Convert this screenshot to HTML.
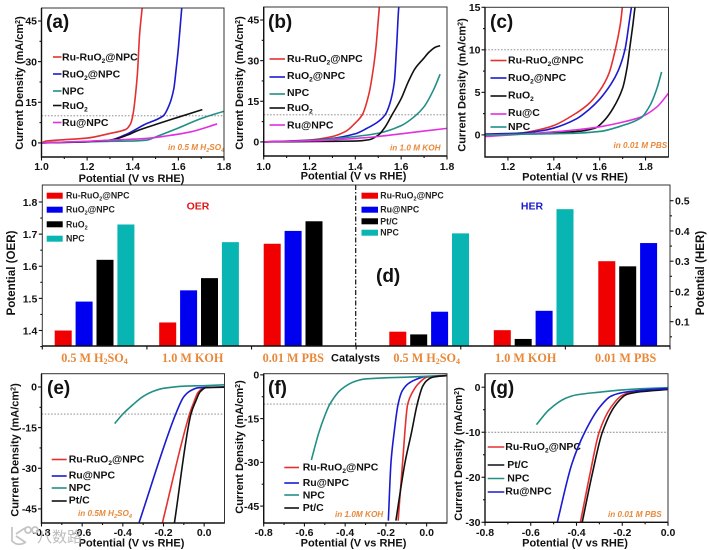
<!DOCTYPE html>
<html lang="en">
<head>
<meta charset="utf-8">
<title>Electrocatalyst OER and HER performance panels</title>
<style>
html,body{margin:0;padding:0;background:#fff;}
body{width:709px;height:550px;overflow:hidden;}
#figure{display:block;width:709px;height:550px;filter:blur(0.3px);}
text{font-family:"Liberation Sans","DejaVu Sans",sans-serif;font-weight:bold;fill:#111;}
.lg{font-size:10.5px;}
.lgs{font-size:8.8px;fill:#222;}
.ttl{font-size:11px;text-anchor:middle;}
.tick{font-size:10.5px;}
.tag{font-size:19px;fill:#111;}
.note{font-size:8.2px;font-style:italic;fill:#e8893a;}
.cat{font-family:"Liberation Serif",serif;font-size:12.2px;fill:#e8893a;text-anchor:middle;}
.ll{stroke-width:1.6;fill:none;}
.frame{fill:none;stroke:#333;stroke-width:1;}
.ref{stroke:#808080;stroke-width:.9;stroke-dasharray:1.6 1.6;fill:none;}
</style>
</head>
<body>
<svg id="figure" xmlns="http://www.w3.org/2000/svg" width="709" height="550" viewBox="0 0 709 550">
<rect x="0" y="0" width="709" height="550" fill="#fff"/>

<!-- Panel a -->
<g id="panel-a">
<text class="tag" x="46" y="28">(a)</text>
<text class="ttl" transform="translate(23,83) rotate(-90)">Current Density (mA/cm<tspan dy="-3" font-size="7">2</tspan><tspan dy="3">)</tspan></text>
<text class="ttl" x="131.5" y="182">Potential (V vs RHE)</text>
<g>
<line class="ll" x1="53" x2="61.5" y1="57" y2="57" stroke="#e4302f"/>
<text class="lg" x="62" y="60.5">Ru-RuO<tspan dy="2.5" font-size="6.5">2</tspan><tspan dy="-2.5">@NPC</tspan></text>
<line class="ll" x1="53" x2="61.5" y1="74" y2="74" stroke="#1a1ad0"/>
<text class="lg" x="62" y="77.7">RuO<tspan dy="2.5" font-size="6.5">2</tspan><tspan dy="-2.5">@NPC</tspan></text>
<line class="ll" x1="53" x2="61.5" y1="91" y2="91" stroke="#218f85"/>
<text class="lg" x="62" y="94.5">NPC</text>
<line class="ll" x1="53" x2="61.5" y1="105.5" y2="105.5" stroke="#111"/>
<text class="lg" x="62" y="109">RuO<tspan dy="2.5" font-size="6.5">2</tspan></text>
<line class="ll" x1="53" x2="61.5" y1="122.5" y2="122.5" stroke="#e030e0"/>
<text class="lg" x="62" y="126">Ru@NPC</text>
</g>
<text class="note" x="168" y="150">in 0.5 M H<tspan dy="2" font-size="5.5">2</tspan><tspan dy="-2">SO</tspan><tspan dy="2" font-size="5.5">4</tspan></text>
</g>

<!-- Panel b -->
<g id="panel-b">
<text class="tag" x="268" y="28">(b)</text>
<text class="ttl" transform="translate(243,83) rotate(-90)">Current Density (mA/cm<tspan dy="-3" font-size="7">2</tspan><tspan dy="3">)</tspan></text>
<text class="ttl" x="353.5" y="179.5">Potential (V vs RHE)</text>
<g>
<line class="ll" x1="269.5" x2="285" y1="59" y2="59" stroke="#e4302f"/>
<text class="lg" x="287" y="62">Ru-RuO<tspan dy="2.5" font-size="6.5">2</tspan><tspan dy="-2.5">@NPC</tspan></text>
<line class="ll" x1="269.5" x2="285" y1="77" y2="77" stroke="#1a1ad0"/>
<text class="lg" x="287" y="79">RuO<tspan dy="2.5" font-size="6.5">2</tspan><tspan dy="-2.5">@NPC</tspan></text>
<line class="ll" x1="269.5" x2="285" y1="94" y2="94" stroke="#218f85"/>
<text class="lg" x="287" y="96">NPC</text>
<line class="ll" x1="269.5" x2="285" y1="108" y2="108" stroke="#111"/>
<text class="lg" x="287" y="111">RuO<tspan dy="2.5" font-size="6.5">2</tspan></text>
<line class="ll" x1="269.5" x2="285" y1="125" y2="125" stroke="#e030e0"/>
<text class="lg" x="287" y="128.4">Ru@NPC</text>
</g>
<text class="note" x="390" y="150.5">in 1.0 M KOH</text>
</g>

<!-- Panel c -->
<g id="panel-c">
<text class="tag" x="490" y="28">(c)</text>
<text class="ttl" transform="translate(465.5,85) rotate(-90)">Current Density (mA/cm<tspan dy="-3" font-size="7">2</tspan><tspan dy="3">)</tspan></text>
<text class="ttl" x="575" y="180.5">Potential (V vs RHE)</text>
<g>
<line class="ll" x1="490.5" x2="506.5" y1="60.5" y2="60.5" stroke="#e4302f"/>
<text class="lg" x="508" y="63.7">Ru-RuO<tspan dy="2.5" font-size="6.5">2</tspan><tspan dy="-2.5">@NPC</tspan></text>
<line class="ll" x1="490.5" x2="506.5" y1="78" y2="78" stroke="#1a1ad0"/>
<text class="lg" x="508" y="81">RuO<tspan dy="2.5" font-size="6.5">2</tspan><tspan dy="-2.5">@NPC</tspan></text>
<line class="ll" x1="490.5" x2="506.5" y1="96" y2="96" stroke="#111"/>
<text class="lg" x="508" y="98.7">RuO<tspan dy="2.5" font-size="6.5">2</tspan></text>
<line class="ll" x1="490.5" x2="506.5" y1="114" y2="114" stroke="#e030e0"/>
<text class="lg" x="508" y="116">Ru@C</text>
<line class="ll" x1="490.5" x2="506.5" y1="127" y2="127" stroke="#218f85"/>
<text class="lg" x="508" y="130">NPC</text>
</g>
<text class="note" x="613.5" y="148">in 0.01 M PBS</text>
</g>

<!-- Panel d -->
<g id="panel-d">
<text class="tag" x="376" y="282">(d)</text>
<text x="198" y="209.5" font-size="10.5" text-anchor="middle" style="fill:#e01818">OER</text>
<text x="532" y="209.5" font-size="10.5" text-anchor="middle" style="fill:#1a1ad0">HER</text>
<text transform="translate(15,273) rotate(-90)" font-size="11.6" text-anchor="middle">Potential (OER)</text>
<text transform="translate(704,273) rotate(-90)" font-size="11.6" text-anchor="middle">Potential (HER)</text>
<text x="355.5" y="361.7" font-size="11" text-anchor="middle">Catalysts</text>
<text class="cat" x="94.5" y="362">0.5 M H<tspan dy="2" font-size="8">2</tspan><tspan dy="-2">SO</tspan><tspan dy="2" font-size="8">4</tspan></text>
<text class="cat" x="192.7" y="362">1.0 M KOH</text>
<text class="cat" x="293.3" y="362">0.01 M PBS</text>
<text class="cat" x="426.7" y="362">0.5 M H<tspan dy="2" font-size="8">2</tspan><tspan dy="-2">SO</tspan><tspan dy="2" font-size="8">4</tspan></text>
<text class="cat" x="525.7" y="362">1.0 M KOH</text>
<text class="cat" x="625.7" y="362">0.01 M PBS</text>
<g>
<rect x="46.7" y="192.7" width="16" height="6" fill="#f00000"/>
<text class="lgs" x="66" y="198.7">Ru-RuO<tspan dy="2" font-size="5.5">2</tspan><tspan dy="-2">@NPC</tspan></text>
<rect x="46.7" y="206.7" width="16" height="6" fill="#0000f0"/>
<text class="lgs" x="66" y="212.7">RuO<tspan dy="2" font-size="5.5">2</tspan><tspan dy="-2">@NPC</tspan></text>
<rect x="46.7" y="221.3" width="16" height="6" fill="#000"/>
<text class="lgs" x="66" y="227.3">RuO<tspan dy="2" font-size="5.5">2</tspan></text>
<rect x="46.7" y="235.7" width="16" height="6" fill="#08b5b2"/>
<text class="lgs" x="66" y="241.7">NPC</text>
</g>
<g>
<rect x="361.5" y="192.7" width="16.5" height="6" fill="#f00000"/>
<text class="lgs" x="380.3" y="198.7">Ru-RuO<tspan dy="2" font-size="5.5">2</tspan><tspan dy="-2">@NPC</tspan></text>
<rect x="361.5" y="206.7" width="16.5" height="6" fill="#0000f0"/>
<text class="lgs" x="380.3" y="212.7">Ru@NPC</text>
<rect x="361.5" y="218.3" width="16.5" height="6" fill="#000"/>
<text class="lgs" x="380.3" y="224.3">Pt/C</text>
<rect x="361.5" y="229.7" width="16.5" height="6" fill="#08b5b2"/>
<text class="lgs" x="380.3" y="235.7">NPC</text>
</g>
</g>

<!-- Panel e -->
<g id="panel-e">
<text class="tag" x="47" y="394">(e)</text>
<text class="ttl" transform="translate(18.5,450) rotate(-90)">Current Density (mA/cm<tspan dy="-3" font-size="7">2</tspan><tspan dy="3">)</tspan></text>
<text class="ttl" x="131.5" y="546.5">Potential (V vs RHE)</text>
<g>
<line class="ll" x1="51.7" x2="66.7" y1="459.5" y2="459.5" stroke="#e4302f"/>
<text class="lg" x="68.7" y="462.7">Ru-RuO<tspan dy="2.5" font-size="6.5">2</tspan><tspan dy="-2.5">@NPC</tspan></text>
<line class="ll" x1="51.7" x2="66.7" y1="476" y2="476" stroke="#1a1ad0"/>
<text class="lg" x="68.7" y="478.5">Ru@NPC</text>
<line class="ll" x1="51.7" x2="66.7" y1="488" y2="488" stroke="#218f85"/>
<text class="lg" x="68.7" y="491">NPC</text>
<line class="ll" x1="51.7" x2="66.7" y1="501" y2="501" stroke="#111"/>
<text class="lg" x="68.7" y="503.7">Pt/C</text>
</g>
<text class="note" x="78" y="516">in 0.5M H<tspan dy="2" font-size="5.5">2</tspan><tspan dy="-2">SO</tspan><tspan dy="2" font-size="5.5">4</tspan></text>
</g>

<!-- Panel f -->
<g id="panel-f">
<text class="tag" x="268" y="394">(f)</text>
<text class="ttl" transform="translate(243,447) rotate(-90)">Current Density (mA/cm<tspan dy="-3" font-size="7">2</tspan><tspan dy="3">)</tspan></text>
<text class="ttl" x="353.5" y="546.5">Potential (V vs RHE)</text>
<g>
<line class="ll" x1="284.3" x2="299" y1="467.5" y2="467.5" stroke="#e4302f"/>
<text class="lg" x="302.7" y="470.7">Ru-RuO<tspan dy="2.5" font-size="6.5">2</tspan><tspan dy="-2.5">@NPC</tspan></text>
<line class="ll" x1="284.3" x2="299" y1="483" y2="483" stroke="#1a1ad0"/>
<text class="lg" x="302.7" y="486">Ru@NPC</text>
<line class="ll" x1="284.3" x2="299" y1="495" y2="495" stroke="#218f85"/>
<text class="lg" x="302.7" y="498.4">NPC</text>
<line class="ll" x1="284.3" x2="299" y1="508" y2="508" stroke="#111"/>
<text class="lg" x="302.7" y="511">Pt/C</text>
</g>
<text class="note" x="335" y="517">in 1.0M KOH</text>
</g>

<!-- Panel g -->
<g id="panel-g">
<text class="tag" x="490" y="394">(g)</text>
<text class="ttl" transform="translate(462,454) rotate(-90)">Current Density (mA/cm<tspan dy="-3" font-size="7">2</tspan><tspan dy="3">)</tspan></text>
<text class="ttl" x="575" y="546.5">Potential (V vs RHE)</text>
<g>
<line class="ll" x1="487.7" x2="504.3" y1="447" y2="447" stroke="#e4302f"/>
<text class="lg" x="505.3" y="450">Ru-RuO<tspan dy="2.5" font-size="6.5">2</tspan><tspan dy="-2.5">@NPC</tspan></text>
<line class="ll" x1="487.7" x2="504.3" y1="465" y2="465" stroke="#111"/>
<text class="lg" x="507.3" y="468">Pt/C</text>
<line class="ll" x1="487.7" x2="504.3" y1="478.5" y2="478.5" stroke="#218f85"/>
<text class="lg" x="507.3" y="481.4">NPC</text>
<line class="ll" x1="487.7" x2="504.3" y1="492" y2="492" stroke="#1a1ad0"/>
<text class="lg" x="505.3" y="494.7">Ru@NPC</text>
</g>
<text class="note" x="608" y="517">in 0.01 M PBS</text>
</g>

<!-- Watermark -->
<g id="watermark">
<path d="M12 527 v14 q6 6 14 1 M16 534 l9 -6 M16 536 l9 6 M28 527 a3 3 0 1 0 .1 0 M35 527 a3 3 0 1 0 .1 0" fill="none" stroke="#c4c4c4" stroke-width="1.7"/>
<text x="37" y="542" font-size="15" style="fill:#bdbdbd;font-family:'Liberation Sans','Noto Sans CJK SC',sans-serif;font-weight:normal">八数路</text>
</g>
</svg>

<script>
// ---- Panel (a) values: potential (V vs RHE) / current density (mA/cm2) ----
const aRedX = [1.0,1.02,1.1,1.2,1.3,1.37,1.39,1.40,1.42,1.43,1.444];
const aRedY = [0,0.7,1.2,1.8,3.5,5,7,10,25,40,52];
const aBlueX = [1.0,1.2,1.3,1.38,1.45,1.534,1.56,1.58,1.59,1.60,1.61,1.617];
const aBlueY = [0,0.4,1,3.5,6.7,10,14,20,27,35,45,52];
const aTealX = [1.0,1.2,1.3,1.4,1.46,1.5,1.6,1.7,1.8];
const aTealY = [0,0.4,0.6,0.7,1,2.2,5.5,9,11.7];
const aBlackX = [1.0,1.2,1.3,1.38,1.42,1.5,1.6,1.705];
const aBlackY = [0,0.5,1,3,4.5,6.8,9.5,12.3];
const aPinkX = [1.0,1.2,1.3,1.45,1.55,1.65,1.77];
const aPinkY = [0,0.6,1,1.6,2.6,4,7];
// ---- Panel (b) values ----
const bRedX = [1.0,1.2,1.3,1.36,1.40,1.43,1.46,1.48,1.49,1.50,1.507];
const bRedY = [0,0.7,2,4,7,10,18,28,35,45,52];
const bBlueX = [1.0,1.2,1.3,1.4,1.45,1.5,1.53,1.55,1.57,1.58,1.59,1.595];
const bBlueY = [0,0.6,1.3,3,5,7.5,10,14,22,35,50,52];
const bTealX = [1.0,1.2,1.3,1.4,1.5,1.6,1.66,1.7,1.74,1.77];
const bTealY = [0,0.5,1.2,2,3.2,6,9.5,13,19,25];
const bBlackX = [1.0,1.3,1.4,1.46,1.5,1.53,1.56,1.6,1.63,1.66,1.7,1.72,1.75,1.77];
const bBlackY = [0,0.2,0.3,0.8,2.5,5.5,10,16,22,27,31,33,35,35.5];
const bPinkX = [1.0,1.2,1.4,1.5,1.6,1.8];
const bPinkY = [0,0.4,1.3,2,3,5];
// ---- Panel (c) values ----
const cRedX = [1.1,1.25,1.35,1.4,1.5,1.55,1.6,1.64,1.668,1.69,1.70];
const cRedY = [0,0.2,0.7,1.1,2.6,3.6,5.2,7.2,10,13,15.3];
const cBlueX = [1.1,1.25,1.35,1.4,1.5,1.55,1.6,1.65,1.68,1.71,1.73,1.74];
const cBlueY = [0.1,0.2,0.5,0.8,1.9,2.9,4.2,6,7.5,10,13.5,15.3];
const cBlackX = [1.1,1.3,1.5,1.58,1.62,1.66,1.7,1.72,1.73,1.745,1.755];
const cBlackY = [0,0.15,0.4,0.8,1.7,3.2,5.5,8,10,13,15.3];
const cPinkX = [1.1,1.3,1.5,1.6,1.7,1.78,1.85,1.9];
const cPinkY = [-0.2,0.15,0.6,0.95,1.5,2.1,3.3,4.9];
const cTealX = [1.1,1.3,1.5,1.6,1.7,1.78,1.82,1.85,1.87];
const cTealY = [0,0.1,0.2,0.4,1.1,2,3.5,5.5,7.4];
// ---- Panel (e) values ----
const eRedX = [-0.205,-0.072,-0.05,-0.03,0,0.1];
const eRedY = [-50,-10,-5.5,-2,-0.2,0];
const eBlueX = [-0.32,-0.14,-0.1,-0.07,-0.03,0.1];
const eBlueY = [-50,-10,-3.6,-1.5,-0.3,0];
const eTealX = [-0.44,-0.4,-0.35,-0.3,-0.25,-0.2,-0.1,0,0.1];
const eTealY = [-13.5,-10,-6.5,-3.5,-1.6,-0.5,0.3,0.5,0.8];
const eBlackX = [-0.146,-0.065,-0.04,-0.02,0.01,0.1];
const eBlackY = [-50,-10,-5,-1.8,-0.2,-0.1];
// ---- Panel (f) values ----
const fRedX = [-0.14,-0.118,-0.093,-0.07,-0.04,0,0.05,0.1];
const fRedY = [-50,-30,-10,-6,-3,-0.8,-0.3,-0.2];
const fBlueX = [-0.188,-0.175,-0.16,-0.14,-0.12,-0.09,-0.05,0,0.1];
const fBlueY = [-50,-30,-20,-10,-5.5,-3,-1.5,-0.5,-0.3];
const fTealX = [-0.566,-0.53,-0.5,-0.475,-0.42,-0.35,-0.3,-0.2,-0.1,0,0.1];
const fTealY = [-29.2,-20,-14,-10,-5,-2.2,-1.4,-1,-0.8,-0.5,-0.3];
const fBlackX = [-0.151,-0.106,-0.075,-0.046,-0.02,0,0.03,0.1];
const fBlackY = [-50,-30,-20,-10,-4,-2,-0.8,-0.2];
// ---- Panel (g) values ----
const gRedX = [-0.383,-0.34,-0.301,-0.25,-0.2,-0.15,0];
const gRedY = [-30,-19,-10,-4.5,-1.8,-1,-0.4];
const gBlueX = [-0.484,-0.42,-0.364,-0.3,-0.25,-0.2,-0.1,0];
const gBlueY = [-30,-17,-10,-4.5,-2,-1.2,-0.6,-0.3];
const gTealX = [-0.575,-0.52,-0.45,-0.4,-0.3,-0.2,-0.1,0];
const gTealY = [-8.3,-5,-2.5,-1.7,-1.1,-0.6,-0.3,-0.1];
const gBlackX = [-0.375,-0.33,-0.287,-0.23,-0.18,-0.12,0];
const gBlackY = [-30,-19,-10,-4,-1.6,-1,-0.5];
// ---- Panel (d) values ----
const barCategories = ['0.5 M H2SO4','1.0 M KOH','0.01 M PBS'];
const oerRuRuO2NPC = [1.40,1.425,1.67];
const oerRuO2NPC = [1.49,1.525,1.71];
const oerRuO2 = [1.62,1.563,1.74];
const oerNPC = [1.73,1.675,null];
const herRuRuO2NPC = [0.067,0.072,0.30];
const herPtC = [0.058,0.043,0.283];
const herRuNPC = [0.133,0.136,0.36];
const herNPC = [0.392,0.472,null];
// ---- Tick labels ----
const oerXTickLabels = ['1.0','1.2','1.4','1.6','1.8'];
const oerYTickLabels = ['0','15','30','45'];
const cXTickLabels = ['1.2','1.4','1.6','1.8'];
const cYTickLabels = ['0','5','10','15'];
const herXTickLabels = ['-0.8','-0.6','-0.4','-0.2','0.0'];
const herYTickLabels = ['0','-15','-30','-45'];
const gYTickLabels = ['0','-10','-20','-30'];
const oerBarTickLabels = ['1.4','1.5','1.6','1.7','1.8'];
const herBarTickLabels = ['0.1','0.2','0.3','0.4','0.5'];

const NS = 'http://www.w3.org/2000/svg';
const RED = '#e4302f', BLUE = '#1a1ad0', TEAL = '#218f85', BLACK = '#111', PINK = '#e030e0';

function node(tag, parent) {
  const n = document.createElementNS(NS, tag);
  parent.appendChild(n);
  return n;
}
function linear(d0, d1, r0, r1) {
  return function (v) { return r0 + (v - d0) / (d1 - d0) * (r1 - r0); };
}
function monotonePath(px, py) {
  const n = px.length, m = [], t = [];
  for (let i = 0; i < n - 1; i++) m.push((py[i + 1] - py[i]) / (px[i + 1] - px[i]));
  t.push(m[0]);
  for (let i = 1; i < n - 1; i++) {
    t.push(m[i - 1] * m[i] <= 0 ? 0 : 2 * m[i - 1] * m[i] / (m[i - 1] + m[i]));
  }
  t.push(m[n - 2]);
  let d = 'M' + px[0].toFixed(2) + ' ' + py[0].toFixed(2);
  for (let i = 0; i < n - 1; i++) {
    const h = (px[i + 1] - px[i]) / 3;
    d += 'C' + (px[i] + h).toFixed(2) + ' ' + (py[i] + t[i] * h).toFixed(2) + ' ' +
      (px[i + 1] - h).toFixed(2) + ' ' + (py[i + 1] - t[i + 1] * h).toFixed(2) + ' ' +
      px[i + 1].toFixed(2) + ' ' + py[i + 1].toFixed(2);
  }
  return d;
}

function drawTick(parent, x1, y1, x2, y2, name) {
  const t = node('line', parent);
  
  
  t.setAttribute('x1', x1); t.setAttribute('y1', y1);
  t.setAttribute('x2', x2); t.setAttribute('y2', y2);
  t.setAttribute('stroke', '#111');
  t.setAttribute('stroke-width', '1.1');
}
function drawLabel(parent, x, y, str, anchor, name) {
  const t = node('text', parent);
  
  
  t.setAttribute('class', 'tick');
  t.setAttribute('x', x); t.setAttribute('y', y);
  t.setAttribute('text-anchor', anchor);
  t.textContent = str;
}

function drawLinePanel(id, box, xDomain, yDomain, xTicks, yTicks, refValue, series) {
  const g = document.getElementById(id);
  const sx = linear(xDomain[0], xDomain[1], box.l, box.r);
  const sy = linear(yDomain[0], yDomain[1], box.b, box.t);

  const clip = node('clipPath', g);
  clip.setAttribute('id', id + '-clip');
  const cr = node('rect', clip);
  cr.setAttribute('x', box.l); cr.setAttribute('y', box.t);
  cr.setAttribute('width', box.r - box.l); cr.setAttribute('height', box.b - box.t);

  const ref = node('line', g);
  
  
  ref.setAttribute('class', 'ref');
  ref.setAttribute('x1', box.l); ref.setAttribute('x2', box.r);
  ref.setAttribute('y1', sy(refValue)); ref.setAttribute('y2', sy(refValue));

  series.forEach(function (s) {
    const p = node('path', g);
    
    
    p.setAttribute('d', monotonePath(s.x.map(sx), s.y.map(sy)));
    p.setAttribute('fill', 'none');
    p.setAttribute('stroke', s.color);
    p.setAttribute('stroke-width', '1.6');
    p.setAttribute('clip-path', 'url(#' + id + '-clip)');
  });

  const fr = node('rect', g);
  
  
  fr.setAttribute('class', 'frame');
  fr.setAttribute('x', box.l); fr.setAttribute('y', box.t);
  fr.setAttribute('width', box.r - box.l); fr.setAttribute('height', box.b - box.t);

  const ax = node('path', g);
  
  
  ax.setAttribute('d', 'M' + box.l + ' ' + box.t + 'V' + box.b + 'H' + box.r);
  ax.setAttribute('fill', 'none');
  ax.setAttribute('stroke', '#111');
  ax.setAttribute('stroke-width', '1.4');

  const xv = xTicks.map(Number), yv = yTicks.map(Number);
  xTicks.forEach(function (lab, i) {
    drawTick(g, sx(xv[i]), box.b, sx(xv[i]), box.b + 3.5, 'x-tick');
    drawLabel(g, sx(xv[i]), box.lblY, lab, 'middle', 'x-tick-label');
    if (i < xTicks.length - 1) {
      const mid = (xv[i] + xv[i + 1]) / 2;
      drawTick(g, sx(mid), box.b, sx(mid), box.b + 2, 'x-minor-tick');
    }
  });
  yTicks.forEach(function (lab, i) {
    drawTick(g, box.l - 3.5, sy(yv[i]), box.l, sy(yv[i]), 'y-tick');
    drawLabel(g, box.l - 4.5, sy(yv[i]) + 3.7, lab, 'end', 'y-tick-label');
    if (i < yTicks.length - 1) {
      const mid = (yv[i] + yv[i + 1]) / 2;
      drawTick(g, box.l - 2, sy(mid), box.l, sy(mid), 'y-minor-tick');
    }
  });
}

drawLinePanel('panel-a', {l:41.5,r:224,t:8,b:157,lblY:170}, [1.0,1.8], [-5.2,49.8], oerXTickLabels, oerYTickLabels, 10, [
  {name:'curve-ru-ruo2-npc', color:RED, x:aRedX, y:aRedY},
  {name:'curve-ruo2-npc', color:BLUE, x:aBlueX, y:aBlueY},
  {name:'curve-npc', color:TEAL, x:aTealX, y:aTealY},
  {name:'curve-ruo2', color:BLACK, x:aBlackX, y:aBlackY},
  {name:'curve-ru-npc', color:PINK, x:aPinkX, y:aPinkY}
]);
drawLinePanel('panel-b', {l:263.7,r:447,t:7,b:156,lblY:170}, [1.0,1.8], [-5.2,49.8], oerXTickLabels, oerYTickLabels, 10, [
  {name:'curve-ru-ruo2-npc', color:RED, x:bRedX, y:bRedY},
  {name:'curve-ruo2-npc', color:BLUE, x:bBlueX, y:bBlueY},
  {name:'curve-npc', color:TEAL, x:bTealX, y:bTealY},
  {name:'curve-ruo2', color:BLACK, x:bBlackX, y:bBlackY},
  {name:'curve-ru-npc', color:PINK, x:bPinkX, y:bPinkY}
]);
drawLinePanel('panel-c', {l:485,r:668.5,t:7.3,b:157,lblY:170}, [1.1,1.9], [-2.6,15], cXTickLabels, cYTickLabels, 10, [
  {name:'curve-ru-ruo2-npc', color:RED, x:cRedX, y:cRedY},
  {name:'curve-ruo2-npc', color:BLUE, x:cBlueX, y:cBlueY},
  {name:'curve-ruo2', color:BLACK, x:cBlackX, y:cBlackY},
  {name:'curve-ru-c', color:PINK, x:cPinkX, y:cPinkY},
  {name:'curve-npc', color:TEAL, x:cTealX, y:cTealY}
]);
drawLinePanel('panel-e', {l:41.5,r:224.5,t:373.7,b:523,lblY:536}, [-0.8,0.1], [-50.2,4.9], herXTickLabels, herYTickLabels, -10, [
  {name:'curve-ru-ruo2-npc', color:RED, x:eRedX, y:eRedY},
  {name:'curve-ru-npc', color:BLUE, x:eBlueX, y:eBlueY},
  {name:'curve-npc', color:TEAL, x:eTealX, y:eTealY},
  {name:'curve-pt-c', color:BLACK, x:eBlackX, y:eBlackY}
]);
drawLinePanel('panel-f', {l:263.7,r:447,t:373.7,b:523,lblY:536}, [-0.8,0.1], [-50.8,0.4], herXTickLabels, herYTickLabels, -10, [
  {name:'curve-ru-ruo2-npc', color:RED, x:fRedX, y:fRedY},
  {name:'curve-ru-npc', color:BLUE, x:fBlueX, y:fBlueY},
  {name:'curve-npc', color:TEAL, x:fTealX, y:fTealY},
  {name:'curve-pt-c', color:BLACK, x:fBlackX, y:fBlackY}
]);
drawLinePanel('panel-g', {l:485,r:668,t:373.7,b:522.3,lblY:536}, [-0.8,0], [-30,3], herXTickLabels, gYTickLabels, -10, [
  {name:'curve-ru-ruo2-npc', color:RED, x:gRedX, y:gRedY},
  {name:'curve-pt-c', color:BLACK, x:gBlackX, y:gBlackY},
  {name:'curve-npc', color:TEAL, x:gTealX, y:gTealY},
  {name:'curve-ru-npc', color:BLUE, x:gBlueX, y:gBlueY}
]);

// ---- Panel (d) ----
(function () {
  const g = document.getElementById('panel-d');
  const L = 42.3, R = 670, T = 185, B = 346, MID = 355.7, groupW = 104.5, barW = 17, pitch = 20.9;
  const yOer = linear(1.4, 1.8, 330.5, 202);
  const yHer = linear(0.1, 0.5, 321.7, 200.7);

  function drawBars(values, index, start, scale, color, name) {
    barCategories.forEach(function (cat, c) {
      if (values[c] === null) return;
      const x = start + groupW * c + pitch * index;
      const y = scale(values[c]);
      const r = node('rect', g);
      
      
      r.setAttribute('x', x); r.setAttribute('y', y);
      r.setAttribute('width', barW); r.setAttribute('height', B - y);
      r.setAttribute('fill', color);
    });
  }
  const oerStart = L + 12.4, herStart = MID + 33.6;
  drawBars(oerRuRuO2NPC, 0, oerStart, yOer, '#f00000', 'oer-bar-ru-ruo2-npc');
  drawBars(oerRuO2NPC, 1, oerStart, yOer, '#0000f0', 'oer-bar-ruo2-npc');
  drawBars(oerRuO2, 2, oerStart, yOer, '#000', 'oer-bar-ruo2');
  drawBars(oerNPC, 3, oerStart, yOer, '#08b5b2', 'oer-bar-npc');
  drawBars(herRuRuO2NPC, 0, herStart, yHer, '#f00000', 'her-bar-ru-ruo2-npc');
  drawBars(herPtC, 1, herStart, yHer, '#000', 'her-bar-pt-c');
  drawBars(herRuNPC, 2, herStart, yHer, '#0000f0', 'her-bar-ru-npc');
  drawBars(herNPC, 3, herStart, yHer, '#08b5b2', 'her-bar-npc');

  const fr = node('rect', g);
  
  
  fr.setAttribute('class', 'frame');
  fr.setAttribute('x', L); fr.setAttribute('y', T);
  fr.setAttribute('width', R - L); fr.setAttribute('height', B - T);

  const base = node('line', g);
  
  
  base.setAttribute('x1', L); base.setAttribute('x2', R);
  base.setAttribute('y1', B); base.setAttribute('y2', B);
  base.setAttribute('stroke', '#111');
  base.setAttribute('stroke-width', '1.4');

  const div = node('line', g);
  
  
  div.setAttribute('x1', MID); div.setAttribute('x2', MID);
  div.setAttribute('y1', T); div.setAttribute('y2', B);
  div.setAttribute('stroke', '#111');
  div.setAttribute('stroke-width', '1.2');
  div.setAttribute('stroke-dasharray', '5 2 1.5 2');

  for (let i = 0; i <= 6; i++) {
    const tx = L + (R - L) * i / 6;
    drawTick(g, tx, B, tx, B + 3.5, 'category-tick');
  }
  oerBarTickLabels.forEach(function (lab) {
    const y = yOer(Number(lab));
    drawTick(g, L - 3.5, y, L, y, 'left-y-tick');
    drawLabel(g, L - 5, y + 3.9, lab, 'end', 'left-y-tick-label');
    const y2 = yOer(Number(lab) - 0.05);
    drawTick(g, L - 2, y2, L, y2, 'left-y-minor-tick');
  });
  herBarTickLabels.forEach(function (lab) {
    const y = yHer(Number(lab));
    drawTick(g, R, y, R + 3.5, y, 'right-y-tick');
    drawLabel(g, R + 5, y + 3.9, lab, 'start', 'right-y-tick-label');
    const y2 = yHer(Number(lab) - 0.05);
    drawTick(g, R, y2, R + 2, y2, 'right-y-minor-tick');
  });
})();
</script>
</body>
</html>
